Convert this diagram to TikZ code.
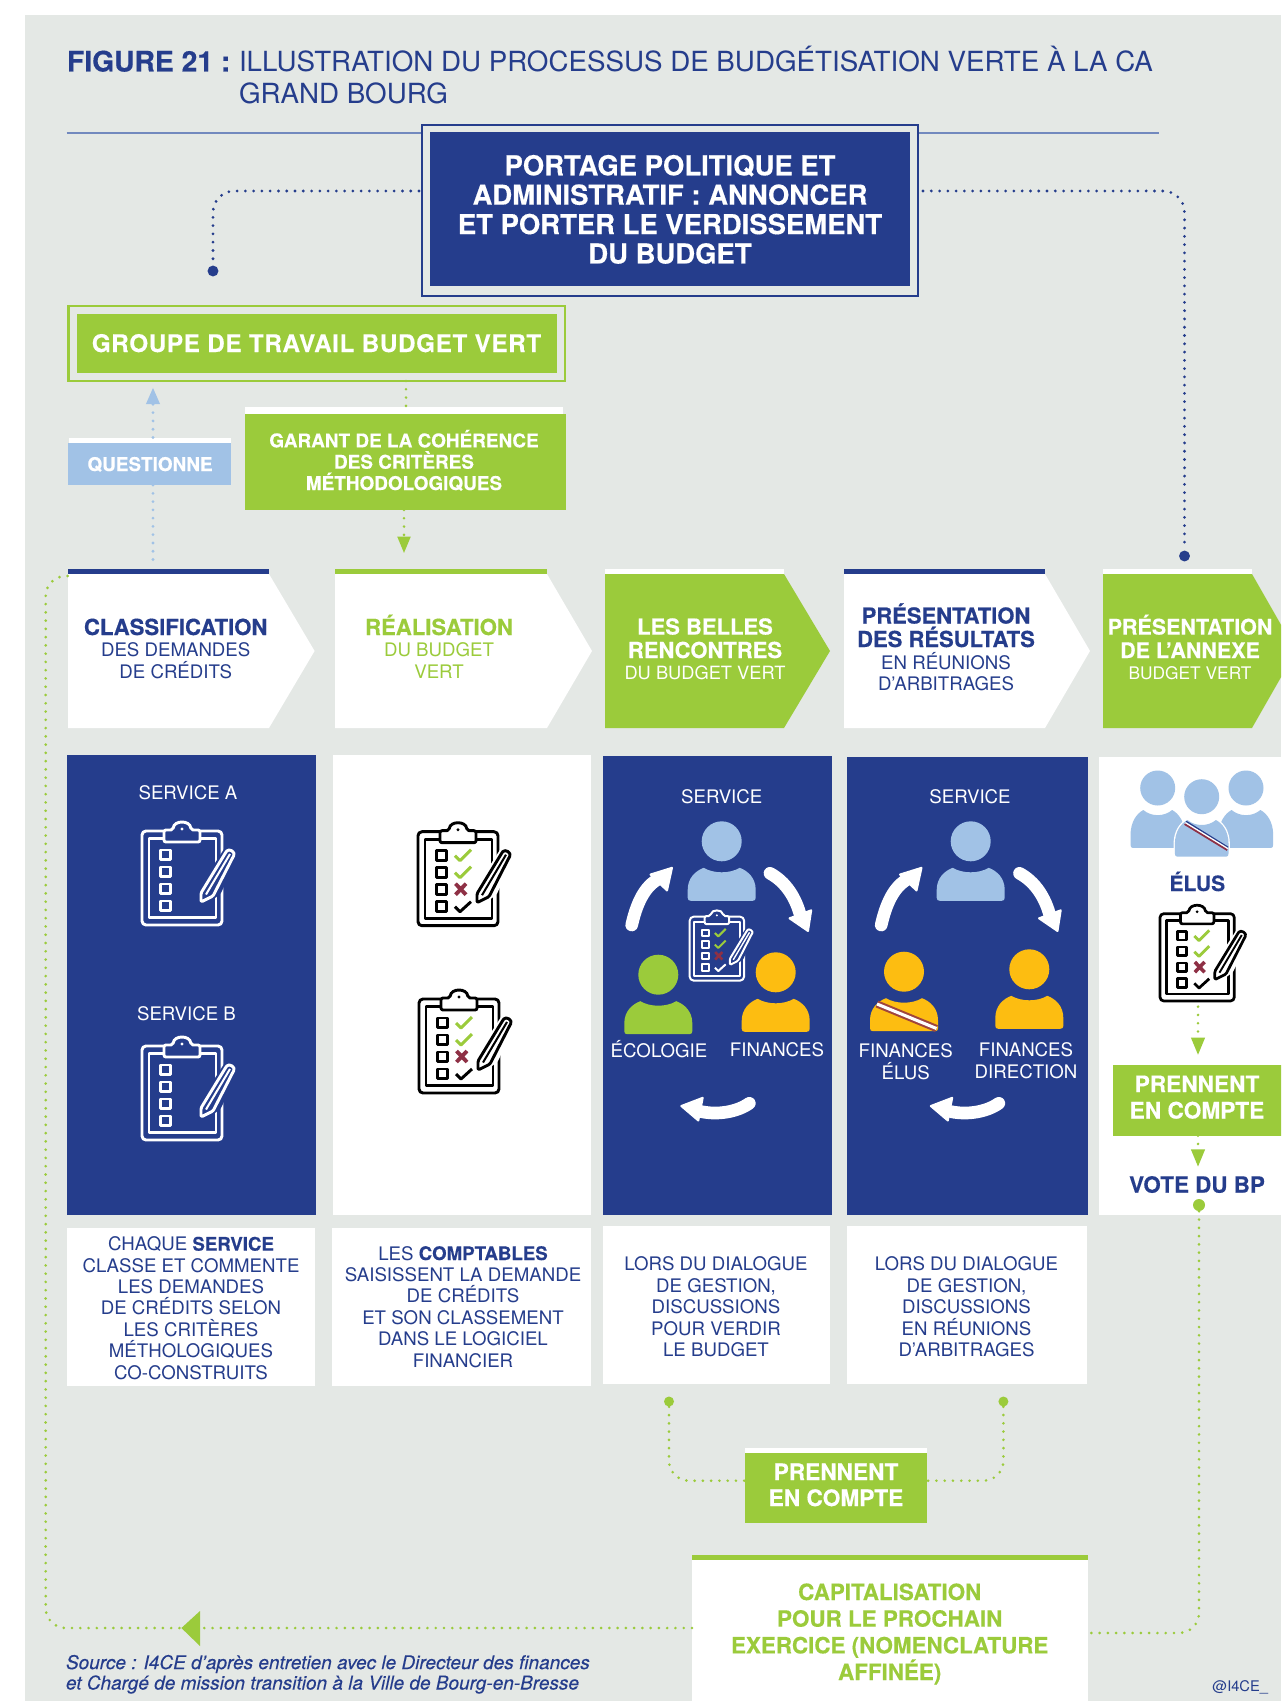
\documentclass[tikz,border=0pt]{standalone}
\usepackage{fontspec}
\setmainfont{TeX Gyre Heros}[BoldFeatures={FakeBold=0.35},ItalicFeatures={FakeBold=0.2}]
\usetikzlibrary{arrows.meta,calc}
\definecolor{bgc}{HTML}{E4E8E5}
\definecolor{navy}{HTML}{253D8C}
\definecolor{grn}{HTML}{9BCB3B}
\definecolor{lblue}{HTML}{A1C2E6}
\definecolor{orng}{HTML}{FDBD11}
\definecolor{xred}{HTML}{8E3045}
\definecolor{rulec}{HTML}{7289BE}
\newcommand\boxn[6]{\node[#6,inner sep=0pt,outer sep=0pt,minimum width={(#4-#2)*0.75pt},minimum height={(#5-#3)*0.75pt}] (#1) at ({(#2+#4)/2},{(#3+#5)/2}) {};}
\newcommand\clipicon[7]{%
 \begin{scope}[shift={(#1,#2)},scale=#3,line join=round]
  \pgfmathsetlengthmacro\lw{2.2*#3}
  \draw[#4,line width=\lw,rounded corners=3pt] (1,1) rectangle (81,95);
  \draw[#4,line width=\lw] (8,8.5) rectangle (75,87.5);
  \path[fill=#5,draw=#4,line width=\lw,rounded corners=1.5pt] (23,12) -- (23,0) -- (32,0) .. controls (33,-10) and (49,-10) .. (50,0) -- (59,0) -- (59,12) -- cycle;
  \fill[#4] (41,-1) circle (1.6);
  \foreach \yy in {19,36,53,70}{\draw[#4,line width=\lw] (19.6,\yy+1) rectangle (29.2,\yy+10.4);}
  \ifnum#6=1
   \draw[grn,line width=\lw] (38,25) -- (43,30) -- (54,19);
   \draw[grn,line width=\lw] (38,42) -- (43,47) -- (54,36);
   \draw[xred,line width=1.3*\lw] (38.5,53) -- (49,64) (49,53) -- (38.5,64);
   \draw[#4,line width=\lw] (38,76) -- (43,81) -- (54,71);
  \fi
  \draw[#5,line width=3*\lw] (60,73) -- (60,63) -- (87,21) -- (93,26) -- (76,61) -- cycle;
  \path[fill=#5,draw=#4,line width=\lw,rounded corners=1pt] (60,72) -- (60,63) -- (85,22) .. controls (88,18) and (95,22) .. (92,27) -- (72,66) -- cycle;
  \draw[#4,line width=.7*\lw] (65,64.5) -- (89,24);
 \end{scope}}
\newcommand\person[7]{%
 \begin{scope}[shift={(#1,#2)}]
  \path[#7] (0,0) circle (#3);
  \begin{scope}[shift={(0,#6)},xscale=#4,yscale=#5]
   \path[#7] (-34,30) -- (-34,22) .. controls (-34,10) and (-26,3) .. (-18,0) .. controls (-8,6) and (8,6) .. (18,0) .. controls (26,3) and (34,10) .. (34,22) -- (34,30) .. controls (34,32) and (33,33) .. (31,33) -- (-31,33) .. controls (-33,33) and (-34,32) .. (-34,30) -- cycle;
  \end{scope}
 \end{scope}}
\newcommand\cycarrows[1]{%
 \begin{scope}[xshift=#1*0.75pt,line cap=round]
  \draw[white,line width=9.5pt] (631.7,925) .. controls (638,897) and (648,884) .. (660,878);
  \fill[white,draw=white,line width=1.5pt,line join=round] (672,867.8) -- (650.5,874.5) -- (667,890.5) -- cycle;
  \draw[white,line width=9.5pt] (770,873.3) .. controls (786,882) and (796,898) .. (800.7,916.7);
  \fill[white,draw=white,line width=1.5pt,line join=round] (808,931) -- (789.5,918.3) -- (811.2,910.3) -- cycle;
  \draw[white,line width=9.5pt] (749.3,1103.3) .. controls (737,1112) and (718,1115) .. (701.7,1111.7);
  \fill[white,draw=white,line width=1.5pt,line join=round] (681.3,1106) -- (702.7,1097.8) -- (698.3,1120.5) -- cycle;
 \end{scope}}
\tikzset{
 x=0.75pt,y=-0.75pt,
 lab/.style={anchor=base,align=center,inner sep=0pt,outer sep=0pt},
 dotb/.style={navy,line width=2.3pt,line cap=round,dash pattern=on 0pt off 6.2pt},
 dotg/.style={grn,line width=2.2pt,line cap=round,dash pattern=on 0pt off 6.2pt},
 dotl/.style={lblue,line width=2.3pt,line cap=round,dash pattern=on 0pt off 6.2pt},
 endb/.style={circle,fill=navy,inner sep=0pt,minimum size=8.2pt},
 endg/.style={circle,fill=grn,inner sep=0pt,minimum size=7.5pt},
 txbody/.style={lab,font=\fontsize{14pt}{16.05pt}\selectfont,text=navy},
 hdb/.style={lab,font=\fontsize{16.6pt}{16.1pt}\selectfont\bfseries,text=navy},
 hdc/.style={lab,font=\fontsize{16.5pt}{17.6pt}\selectfont\bfseries},
 svc/.style={lab,font=\fontsize{14pt}{15.9pt}\selectfont,text=white},
}
\begin{document}
\begin{tikzpicture}
\useasboundingbox (0,0) rectangle (1281,1701);
\clip (0,0) rectangle (1281,1701);
\fill[bgc] (24.5,15.5) rectangle (1281,1701);
% title
\node[lab,anchor=base west,font=\fontsize{21.2pt}{24pt}\selectfont\bfseries,text=navy] (figno) at (67,71.5) {FIGURE 21 :};
\node[lab,anchor=base west,align=left,font=\fontsize{20.8pt}{24pt}\selectfont,text=navy] (titre) at (239,103.5) {ILLUSTRATION DU PROCESSUS DE BUDGÉTISATION VERTE À LA CA\\GRAND BOURG};
\coordinate (ruleA) at (66.5,133);
\coordinate (ruleB) at (1159,133);
\draw[rulec,line width=0.9pt] (ruleA) -- (ruleB);
% portage
\boxn{portageO}{422}{125}{918}{296}{draw=navy,line width=2pt,fill=bgc}
\boxn{portage}{430}{132}{910}{286}{fill=navy}
\node[lab,font=\fontsize{20.6pt}{22.05pt}\selectfont\bfseries,text=white] (portageT) at (670,263.5) {PORTAGE POLITIQUE ET\\ADMINISTRATIF : ANNONCER\\ET PORTER LE VERDISSEMENT\\DU BUDGET};
% groupe
\boxn{groupeO}{68.5}{306}{565}{381}{draw=grn,line width=2pt,fill=bgc}
\boxn{groupe}{76.7}{314}{557}{373}{fill=grn}
\node[lab,font=\addfontfeature{LetterSpace=2.5}\fontsize{18.2pt}{20pt}\selectfont\bfseries,text=white] (groupeT) at (316.5,352) {GROUPE DE TRAVAIL BUDGET VERT};
% questionne
\boxn{questS}{68.5}{437.5}{231}{443}{fill=white}
\boxn{quest}{68}{443}{231}{484.6}{fill=lblue}
\node[lab,font=\fontsize{14.2pt}{16pt}\selectfont\bfseries,text=white] (questT) at (150,471) {QUESTIONNE};
% garant
\boxn{garS}{245}{407}{563}{413.6}{fill=white}
\boxn{garant}{245}{413.6}{566}{510}{fill=grn}
\node[lab,font=\fontsize{14.2pt}{16pt}\selectfont\bfseries,text=white] (garT) at (404,490) {GARANT DE LA COHÉRENCE\\DES CRITÈRES\\MÉTHODOLOGIQUES};
% chevrons
\fill[white] (68,574) -- (269,574) -- (314.6,651) -- (269,728) -- (68,728) -- cycle;
\boxn{ch1s}{68}{568.5}{269}{574}{fill=navy}
\fill[white] (335,574) -- (547,574) -- (592,651) -- (547,728) -- (335,728) -- cycle;
\boxn{ch2s}{335}{568.5}{547}{574}{fill=grn}
\fill[grn] (605,574) -- (784,574) -- (830,651) -- (784,728) -- (605,728) -- cycle;
\boxn{ch3s}{605}{568.5}{784}{574}{fill=white}
\fill[white] (844,574) -- (1045,574) -- (1090,651) -- (1045,728) -- (844,728) -- cycle;
\boxn{ch4s}{844}{568.5}{1045}{574}{fill=navy}
\fill[grn] (1103,574) -- (1252,574) -- (1296,651) -- (1252,728) -- (1103,728) -- cycle;
\boxn{ch5s}{1103}{568.5}{1252}{574}{fill=white}
\node[hdb] (c1a) at (175.7,635) {CLASSIFICATION};
\node[txbody] (c1b) at (175.7,678) {DES DEMANDES\\DE CRÉDITS};
\node[hdb,text=grn] (c2a) at (439,635) {RÉALISATION};
\node[txbody,text=grn] (c2b) at (439,678) {DU BUDGET\\VERT};
\node[hdc,text=white] (c3a) at (705,658) {LES BELLES\\RENCONTRES};
\node[txbody,text=white,font=\fontsize{13.7pt}{16pt}\selectfont] (c3b) at (705,679) {DU BUDGET VERT};
\node[hdc,text=navy] (c4a) at (946,647) {PRÉSENTATION\\DES RÉSULTATS};
\node[txbody] (c4b) at (946,690.5) {EN RÉUNIONS\\D’ARBITRAGES};
\node[hdc,text=white,font=\fontsize{16.1pt}{17.6pt}\selectfont\bfseries] (c5a) at (1190,658) {PRÉSENTATION\\DE L’ANNEXE};
\node[txbody,text=white,font=\fontsize{13pt}{16pt}\selectfont] (c5b) at (1190,679) {BUDGET VERT};
% panels
\boxn{p1}{66.8}{755}{315.7}{1215}{fill=navy}
\boxn{p2}{333}{755}{591}{1215}{fill=white}
\boxn{p3}{602.7}{756}{831.7}{1215}{fill=navy}
\boxn{p4}{846.7}{757}{1088}{1215}{fill=navy}
\boxn{p5}{1099}{757}{1290}{1215}{fill=white}
\node[svc] (sa) at (188,799) {SERVICE A};
\node[svc] (sb) at (186.5,1020) {SERVICE B};
\clipicon{141}{830}{1}{white}{navy}{0}{}
\clipicon{141}{1045}{1}{white}{navy}{0}{}
\clipicon{417}{830.7}{1}{black}{white}{1}{}
\clipicon{418}{998}{1}{black}{white}{1}{}
% panel 3
\node[svc] (s3) at (721.7,803.7) {SERVICE};
\person{721.7}{841.3}{20}{1}{1}{26.5}{fill=lblue}
\person{658.3}{974.7}{20}{1}{1}{26.5}{fill=grn}
\person{775.7}{972.3}{20}{1}{1}{26.5}{fill=orng}
\clipicon{689}{916}{0.68}{white}{navy}{1}{}
\node[svc] (s3e) at (659,1057.7) {ÉCOLOGIE};
\node[svc] (s3f) at (777,1056.7) {FINANCES};
\cycarrows{0}
% panel 4
\node[svc] (s4) at (970,803.7) {SERVICE};
\person{970.7}{841.3}{20}{1}{1}{26.5}{fill=lblue}
\person{904}{971.7}{20}{1}{1}{26.5}{fill=orng}
\person{1029.3}{969.3}{20}{1}{1}{26.5}{fill=orng}
\draw[xred!85!orng,line width=5.4pt] (877,1004) -- (936.5,1028.5);
\draw[white,line width=2.3pt] (877,1004) -- (936.5,1028.5);
\node[svc] (s4e) at (905.7,1079) {FINANCES\\ÉLUS};
\node[svc] (s4f) at (1026,1078) {FINANCES\\DIRECTION};
\cycarrows{249.5}
% panel 5
\person{1157.7}{788}{17.5}{.8}{1.15}{22}{fill=lblue}
\person{1246}{788}{17.5}{.8}{1.15}{22}{fill=lblue}
\person{1201.7}{796.7}{17.5}{.79}{1.11}{23.3}{fill=lblue,draw=white,line width=2pt}
\person{1201.7}{796.7}{17.5}{.79}{1.11}{23.3}{fill=lblue}
\draw[navy,line width=1.3pt] (1186,821.5) -- (1228,847.5);
\draw[white,line width=1.3pt] (1185.3,822.8) -- (1227.8,848.8);
\draw[xred,line width=1.3pt] (1184.6,824.1) -- (1227.2,850.1);
\node[lab,font=\fontsize{15.8pt}{17pt}\selectfont\bfseries,text=navy] (elus) at (1197.3,891) {ÉLUS};
\clipicon{1159}{912.7}{0.93}{black}{white}{1}{}
\coordinate (clipS) at (1198,1006.7);
\boxn{pr5}{1113}{1065}{1290}{1135.7}{fill=grn}
\node[lab,font=\fontsize{17pt}{19.8pt}\selectfont\bfseries,text=white] (pr5T) at (1197,1118.5) {PRENNENT\\EN COMPTE};
\node[lab,font=\fontsize{16.8pt}{18pt}\selectfont\bfseries,text=navy] (vote) at (1197,1192.7) {VOTE DU BP};
\node[endg,minimum size=9pt] (voteD) at (1199,1205) {};
% text boxes
\boxn{b1}{67.3}{1228}{314.6}{1386}{fill=white}
\boxn{b2}{332}{1228}{591}{1386}{fill=white}
\boxn{b3}{603}{1226}{830}{1384}{fill=white}
\boxn{b4}{847}{1226}{1087}{1384}{fill=white}
\node[txbody] (b1T) at (191,1379) {CHAQUE \textbf{SERVICE}\\CLASSE ET COMMENTE\\LES DEMANDES\\DE CRÉDITS SELON\\LES CRITÈRES\\MÉTHOLOGIQUES\\CO-CONSTRUITS};
\node[txbody] (b2T) at (463,1367) {LES \textbf{COMPTABLES}\\SAISISSENT LA DEMANDE\\DE CRÉDITS\\ET SON CLASSEMENT\\DANS LE LOGICIEL\\FINANCIER};
\node[txbody] (b3T) at (716,1356.5) {LORS DU DIALOGUE\\DE GESTION,\\DISCUSSIONS\\POUR VERDIR\\LE BUDGET};
\node[txbody] (b4T) at (966.5,1356.5) {LORS DU DIALOGUE\\DE GESTION,\\DISCUSSIONS\\EN RÉUNIONS\\D’ARBITRAGES};
% prennent / capitalisation
\boxn{prS}{745}{1447.7}{927.3}{1452.7}{fill=white}
\boxn{pr}{745}{1452.7}{927.3}{1522.7}{fill=grn}
\node[lab,font=\fontsize{17pt}{19.5pt}\selectfont\bfseries,text=white] (prT) at (836,1506) {PRENNENT\\EN COMPTE};
\boxn{capS}{692}{1555}{1088}{1560}{fill=grn}
\boxn{cap}{692}{1560}{1088}{1710}{fill=white}
\node[lab,font=\fontsize{16.8pt}{20pt}\selectfont\bfseries,text=grn] (capT) at (889.7,1680) {CAPITALISATION\\POUR LE PROCHAIN\\EXERCICE (NOMENCLATURE\\AFFINÉE)};
\node[lab,anchor=base west,align=left,font=\fontsize{14.25pt}{15.3pt}\selectfont\itshape,text=navy] (src) at (66,1689.5) {Source : I4CE d’après entretien avec le Directeur des finances\\et Chargé de mission transition à la Ville de Bourg-en-Bresse};
\node[lab,anchor=base east,font=\fontsize{11pt}{13pt}\selectfont,text=navy] (handle) at (1268,1691.7) {@I4CE\_};
% connectors
\node[endb] (dotG) at (213,271) {};
\node[endb] (dotD) at (1184.5,556) {};
\coordinate (rowP) at (0,191);
\draw[dotb,rounded corners=16pt] (portageO.west |- rowP) ++(-3,0) -| (dotG);
\draw[dotb,rounded corners=16pt] (portageO.east |- rowP) ++(5,0) -| (dotD);
\coordinate (xq) at (153,0);
\draw[dotl] (ch1s.north -| xq) ++(0,-9) -- (quest.south -| xq);
\draw[dotl,-{Triangle[length=12.4pt,width=10pt]},shorten >=5pt] (questS.north -| xq) -- (groupeO.south -| xq);
\coordinate (xg) at (406,0);
\draw[dotg] (groupeO.south -| xg) -- (garS.north -| xg);
\coordinate (xh) at (404,0);
\draw[dotg,-{Triangle[length=12.4pt,width=9.5pt]},shorten >=11.5pt] (garant.south -| xh) -- (ch2s.north -| xh);
\coordinate (xe) at (1198,0);
\draw[dotg,-{Triangle[length=13pt,width=10pt]},shorten >=7.5pt] (clipS) -- (pr5.north -| xe);
\draw[dotg,-{Triangle[length=13pt,width=10pt]},shorten >=7pt] (pr5.south -| xe) -- (xe |- vote.north);
\coordinate (rowC) at (0,1633);
\draw[dotg,rounded corners=15pt] (voteD) |- (cap.east |- rowC);
\coordinate (rowB) at (0,1628);
\coordinate (chevIn) at (68,576);
\coordinate (xL) at (45.7,0);
\draw[dotg,rounded corners=15pt] (cap.west |- rowB) -| (xL |- chevIn) -- (chevIn);
\fill[grn] (181.4,1628) -- (200,1611) -- (200,1646) -- cycle;
\node[endg] (dL) at (669,1401.5) {};
\node[endg] (dR) at (1003.4,1401.5) {};
\coordinate (rowPr) at (0,1480.7);
\draw[dotg,rounded corners=15pt] (dL) |- (pr.west |- rowPr);
\draw[dotg,rounded corners=15pt] (dR) |- (pr.east |- rowPr);
\end{tikzpicture}
\end{document}
